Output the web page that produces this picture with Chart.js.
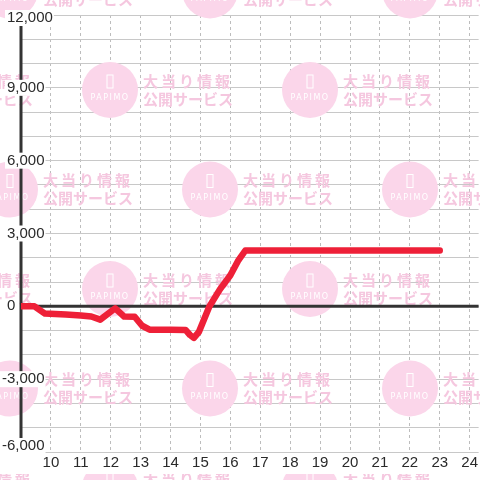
<!DOCTYPE html>
<html>
<head>
<meta charset="utf-8">
<script src="https://cdn.jsdelivr.net/npm/chart.js@4.4.0/dist/chart.umd.min.js"></script>
<style>
  html, body { margin: 0; padding: 0; background: #fff; }
  #wrap { width: 480px; height: 480px; }
</style>
</head>
<body>
<div id="wrap"><canvas id="chart" width="480" height="480"></canvas></div>
<script>
// balance over the day (hour of day -> medals)
const hours   = [9, 9.45, 9.8, 10.5, 11.0, 11.35, 11.65, 12.15, 12.45, 12.8, 13.05, 13.3, 14.0, 14.5, 14.65, 14.78, 14.95, 15.3, 15.65, 16.0, 16.25, 16.5, 23.0];
const balance = [0, 0, -300, -340, -380, -420, -550, -80, -420, -430, -800, -960, -960, -970, -1180, -1300, -1050, 0, 700, 1280, 1860, 2300, 2300];

const hourTicks = [10, 11, 12, 13, 14, 15, 16, 17, 18, 19, 20, 21, 22, 23, 24];
const yLabelValues = [12000, 9000, 6000, 3000, 0, -3000, -6000];

const wmLine1 = '大当り情報';
const wmLine2 = '公開サービス';
const wmBrand = 'PAPIMO';

function drawWatermark(ctx) {
    ctx.save();
    for (let k = -1; k <= 4; k++) {
        const cy = 90 + 99.5 * k;
        const start = (k % 2 === 0) ? 110 : 10;
        for (let cx = start - 200; cx < 580; cx += 200) {
            ctx.fillStyle = '#fbd6ea';
            ctx.beginPath();
            ctx.arc(cx, cy, 28, 0, Math.PI * 2);
            ctx.fill();

            // phone icon
            ctx.strokeStyle = '#fff';
            ctx.lineWidth = 1;
            ctx.strokeRect(cx - 3, cy - 15, 6, 13);

            ctx.fillStyle = '#fff';
            ctx.font = '8px "DejaVu Sans"';
            ctx.letterSpacing = '1.5px';
            ctx.textAlign = 'center';
            ctx.textBaseline = 'middle';
            ctx.fillText(wmBrand, cx, cy + 8);

            ctx.fillStyle = '#f5c7df';
            ctx.font = 'bold 15px "Noto Sans CJK JP"';
            ctx.textAlign = 'left';
            ctx.letterSpacing = '3px';
            ctx.fillText(wmLine1, cx + 33, cy - 9);
            ctx.letterSpacing = '0px';
            ctx.fillText(wmLine2, cx + 33, cy + 9);
        }
    }
    ctx.restore();
}

const backdrop = {
    id: 'backdrop',
    beforeDraw(chart) {
        const ctx = chart.ctx;
        ctx.save();
        ctx.fillStyle = '#fff';
        ctx.fillRect(0, 0, chart.width, chart.height);
        ctx.restore();
    },
    beforeDatasetsDraw(chart) {
        const ctx = chart.ctx;
        const area = chart.chartArea;
        const xs = chart.scales.x, ys = chart.scales.y;
        drawWatermark(ctx);

        ctx.save();
        ctx.strokeStyle = '#333';
        ctx.lineWidth = 3;
        // y axis line at the first hour
        const x0 = xs.getPixelForValue(9);
        ctx.beginPath();
        ctx.moveTo(x0, area.top);
        ctx.lineTo(x0, area.bottom);
        ctx.stroke();
        // zero line
        const y0 = ys.getPixelForValue(0);
        ctx.beginPath();
        ctx.moveTo(area.left, y0);
        ctx.lineTo(area.right, y0);
        ctx.stroke();
        ctx.restore();
    },
    afterDatasetsDraw(chart) {
        // white band behind the hour labels
        const ctx = chart.ctx;
        const area = chart.chartArea;
        ctx.save();
        ctx.fillStyle = '#fff';
        ctx.fillRect(0, area.bottom + 1, chart.width, 21);
        ctx.restore();
    },
    afterDraw(chart) {
        const ctx = chart.ctx;
        const area = chart.chartArea;
        const ys = chart.scales.y;
        ctx.save();
        ctx.font = '15px "Liberation Sans", Arial, sans-serif';
        ctx.textBaseline = 'middle';
        ctx.textAlign = 'left';
        yLabelValues.forEach(v => {
            const text = v.toLocaleString('en-US');
            const y = Math.min(Math.max(ys.getPixelForValue(v), area.top + 3), area.bottom - 6);
            const x = v < 0 ? 2 : 7;
            const w = ctx.measureText(text).width;
            ctx.fillStyle = '#fff';
            ctx.fillRect(x - 2, y - 8, w + 3, 16);
            ctx.fillStyle = '#2a2a2a';
            ctx.fillText(text, x, y);
        });
        ctx.restore();
    }
};

new Chart(document.getElementById('chart'), {
    type: 'line',
    data: {
        datasets: [{
            data: hours.map((h, i) => ({ x: h, y: balance[i] })),
            borderColor: '#ee2038',
            borderWidth: 6.5,
            borderCapStyle: 'round',
            borderJoinStyle: 'round',
            pointRadius: 0,
            tension: 0,
            fill: false
        }]
    },
    options: {
        responsive: false,
        animation: false,
        layout: { padding: { left: 21, right: 0, top: 15, bottom: 6 } },
        plugins: {
            legend: { display: false },
            tooltip: { enabled: false }
        },
        scales: {
            x: {
                type: 'linear',
                min: 9,
                max: 24.3,
                afterBuildTicks: s => { s.ticks = hourTicks.map(v => ({ value: v })); },
                ticks: {
                    autoSkip: false,
                    maxRotation: 0,
                    padding: 2,
                    z: 1,
                    color: '#2a2a2a',
                    font: { family: '"Liberation Sans", Arial, sans-serif', size: 15 }
                },
                grid: { color: '#bdbdbd', lineWidth: 1, drawTicks: false },
                border: { display: false, dash: [3, 3] }
            },
            y: {
                min: -6000,
                max: 12000,
                ticks: { stepSize: 1000, display: false },
                grid: { color: '#c8c8c8', lineWidth: 1, drawTicks: false },
                border: { display: false }
            }
        }
    },
    plugins: [backdrop]
});
</script>
</body>
</html>
